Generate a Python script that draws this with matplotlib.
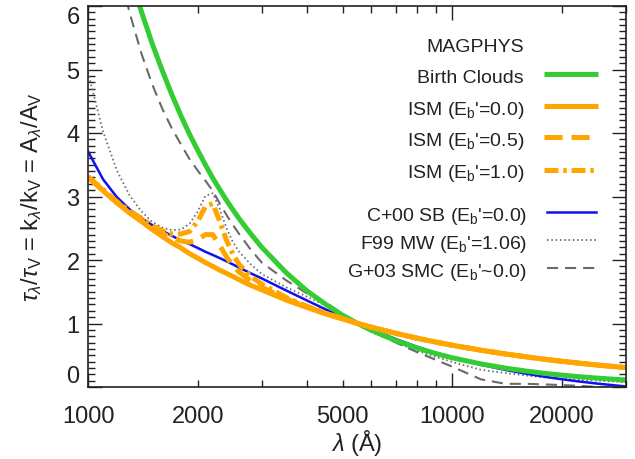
import matplotlib
matplotlib.use("Agg")
import matplotlib.pyplot as plt
import matplotlib.ticker as ticker

# wavelength grid (Angstrom) shared by all curves
wave = [1000, 1100, 1200, 1300, 1400, 1500, 1600, 1700, 1800, 1900, 2000,
        2100, 2200, 2300, 2400, 2500, 2600, 2800, 3000, 3500, 4000, 4500,
        5000, 5500, 6000, 7000, 8000, 9000, 10000, 12000, 14000, 16000,
        18000, 20000, 22000, 25000, 30000]

# MAGPHYS birth clouds
birth_clouds = [9.17, 8.10, 7.24, 6.52, 5.92, 5.41, 4.98, 4.60, 4.27, 3.98, 3.73,
                3.50, 3.29, 3.11, 2.94, 2.79, 2.65, 2.41, 2.20, 1.80, 1.51, 1.30,
                1.13, 1.00, 0.893, 0.731, 0.614, 0.527, 0.460, 0.363, 0.297, 0.250,
                0.214, 0.187, 0.165, 0.140, 0.110]

# MAGPHYS ISM, three bump strengths
ism_00 = [3.30, 3.09, 2.90, 2.74, 2.61, 2.48, 2.37, 2.27, 2.19, 2.10, 2.03,
          1.96, 1.90, 1.84, 1.79, 1.74, 1.69, 1.60, 1.53, 1.37, 1.25, 1.15,
          1.07, 1.00, 0.941, 0.845, 0.769, 0.708, 0.658, 0.579, 0.520, 0.474,
          0.436, 0.405, 0.379, 0.346, 0.305]
ism_05 = [3.31, 3.10, 2.91, 2.76, 2.63, 2.51, 2.42, 2.34, 2.30, 2.28, 2.32,
          2.40, 2.40, 2.23, 2.05, 1.91, 1.81, 1.67, 1.57, 1.39, 1.26, 1.16,
          1.08, 1.00, 0.941, 0.845, 0.769, 0.708, 0.658, 0.579, 0.520, 0.474,
          0.436, 0.405, 0.379, 0.346, 0.305]
ism_10 = [3.31, 3.11, 2.92, 2.77, 2.66, 2.54, 2.46, 2.41, 2.41, 2.45, 2.61,
          2.84, 2.89, 2.61, 2.31, 2.09, 1.93, 1.74, 1.62, 1.41, 1.27, 1.16,
          1.08, 1.00, 0.941, 0.845, 0.769, 0.708, 0.658, 0.579, 0.520, 0.474,
          0.436, 0.405, 0.379, 0.346, 0.305]

# comparison curves
c00_sb = [3.71, 3.27, 2.99, 2.80, 2.66, 2.55, 2.46, 2.38, 2.31, 2.25, 2.19,
          2.13, 2.08, 2.03, 1.98, 1.93, 1.88, 1.79, 1.71, 1.52, 1.36, 1.22,
          1.10, 1.00, 0.908, 0.756, 0.634, 0.540, 0.464, 0.350, 0.269, 0.208,
          0.160, 0.122, 0.091, 0.054, 0.008]
f99_mw = [4.96, 4.02, 3.41, 3.02, 2.77, 2.60, 2.51, 2.47, 2.48, 2.57, 2.76,
          3.01, 3.05, 2.80, 2.50, 2.28, 2.13, 1.93, 1.78, 1.57, 1.42, 1.28,
          1.12, 0.98, 0.867, 0.70, 0.572, 0.474, 0.395, 0.27, 0.22, 0.18,
          0.15, 0.13, 0.115, 0.10, 0.075]
g03_smc = [9.63, 7.94, 6.76, 5.90, 5.26, 4.77, 4.38, 4.07, 3.82, 3.59, 3.41,
           3.25, 3.09, 2.89, 2.71, 2.55, 2.41, 2.16, 1.96, 1.68, 1.47, 1.33,
           1.15, 1.00, 0.88, 0.70, 0.55, 0.43, 0.32, 0.12, 0.05, 0.05,
           0.04, 0.03, 0.02, 0.00, -0.02]

x_labels = [1000, 2000, 5000, 10000, 20000]

plt.rcParams['font.family'] = ['Liberation Sans', 'DejaVu Sans']
plt.rcParams['mathtext.fontset'] = 'custom'
plt.rcParams['mathtext.rm'] = 'Liberation Sans'
plt.rcParams['mathtext.it'] = 'Liberation Sans:italic'
plt.rcParams['lines.scale_dashes'] = False

GREEN = '#33cc33'
ORANGE = '#ffa500'
BLUE = '#1010f0'
GRAY = '#6a6a6a'

fig = plt.figure(figsize=(6.35, 4.6), dpi=100)
ax = fig.add_axes([88 / 635, 1 - 388 / 460, 538 / 635, 381 / 460])

styles = {
    'birth': dict(color=GREEN, lw=3.6, solid_capstyle='butt'),
    'ism0': dict(color=ORANGE, lw=3.6, solid_capstyle='butt'),
    'ism5': dict(color=ORANGE, lw=3.6, dashes=(13, 6.5), dash_capstyle='butt'),
    'ism10': dict(color=ORANGE, lw=3.6, dashes=(10, 3.5, 2.5, 3.5), dash_capstyle='butt'),
    'c00': dict(color=BLUE, lw=1.8),
    'f99': dict(color=GRAY, lw=1.3, dashes=(1.1, 2.0)),
    'g03': dict(color=GRAY, lw=1.5, dashes=(8, 5)),
}

ax.plot(wave, f99_mw, **styles['f99'])
ax.plot(wave, g03_smc, **styles['g03'])
ax.plot(wave, c00_sb, **styles['c00'])
ax.plot(wave, birth_clouds, **styles['birth'])
ax.plot(wave, ism_10, **styles['ism10'])
ax.plot(wave, ism_05, **styles['ism5'])
ax.plot(wave, ism_00, **styles['ism0'])

ax.set_xscale('log')
ax.set_xlim(1000, 30000)
ax.set_ylim(0, 6)

ax.xaxis.set_major_locator(ticker.LogLocator(base=10))
ax.xaxis.set_minor_locator(ticker.LogLocator(base=10, subs=range(2, 10)))
ax.xaxis.set_major_formatter(ticker.FuncFormatter(lambda v, p: '%d' % round(v)))
ax.xaxis.set_minor_formatter(ticker.FuncFormatter(
    lambda v, p: '%d' % round(v) if round(v) in x_labels else ''))
ax.yaxis.set_major_locator(ticker.MultipleLocator(1))
ax.yaxis.set_minor_locator(ticker.MultipleLocator(0.1))

ax.tick_params(which='both', direction='in', top=True, right=True, width=1,
               labelsize=17, colors='#222222')
ax.tick_params(which='major', length=10)
ax.tick_params(which='minor', length=5)
ax.tick_params(axis='x', which='both', pad=13)
ax.tick_params(axis='y', which='both', pad=6)
for sp in ax.spines.values():
    sp.set_linewidth(1.2)
    sp.set_color('#222222')

# IDL-style end labels sit inside the axis range
ylabs = ax.get_yticklabels()
fig.canvas.draw()
for lab in ax.get_yticklabels():
    if lab.get_text() == '0':
        lab.set_va('bottom')
    elif lab.get_text() == '6':
        lab.set_va('top')

fig.text(32 / 635, 1 - 197.5 / 460,
         r'$\tau_\lambda/\tau_{\rm V}$ = k$_\lambda$/k$_{\rm V}$ = A$_\lambda$/A$_{\rm V}$',
         rotation=90, ha='center', va='center', fontsize=17, color='#222222')
fig.text(357 / 635, 1 - 443 / 460, r'$\lambda$ ($\rm\AA$)', ha='center',
         va='center', fontsize=17, color='#222222')


def px(xp, yp):
    # figure pixel -> axes fraction
    return (xp - 88) / 538, (388 - yp) / 381


legend_rows = [
    ('MAGPHYS', None, 524, 52, None),
    ('Birth Clouds', 'birth', 524, 83, (544, 598, 75)),
    (r"ISM (E$_{\rm b}$'=0.0)", 'ism0', 524, 115, (544, 598, 107)),
    (r"ISM (E$_{\rm b}$'=0.5)", 'ism5', 524, 146, (544, 598, 138)),
    (r"ISM (E$_{\rm b}$'=1.0)", 'ism10', 524, 178, (544, 598, 171)),
    (r"C+00 SB (E$_{\rm b}$'=0.0)", 'c00', 527, 221, (547, 596, 213)),
    (r"F99 MW (E$_{\rm b}$'=1.06)", 'f99', 527, 249, (547, 596, 241)),
    (r"G+03 SMC (E$_{\rm b}$'~0.0)", 'g03', 527, 277, (547, 596, 269)),
]
for text, key, xr, yb, seg in legend_rows:
    tx, ty = px(xr, yb)
    ax.text(tx, ty, text, transform=ax.transAxes, ha='right', va='baseline',
            fontsize=14, color='#222222')
    if seg is not None:
        x0, y0 = px(seg[0], seg[2])
        x1, _ = px(seg[1], seg[2])
        ax.plot([x0, x1], [y0, y0], transform=ax.transAxes, clip_on=False,
                **styles[key])

fig.savefig('out.png', dpi=100)
